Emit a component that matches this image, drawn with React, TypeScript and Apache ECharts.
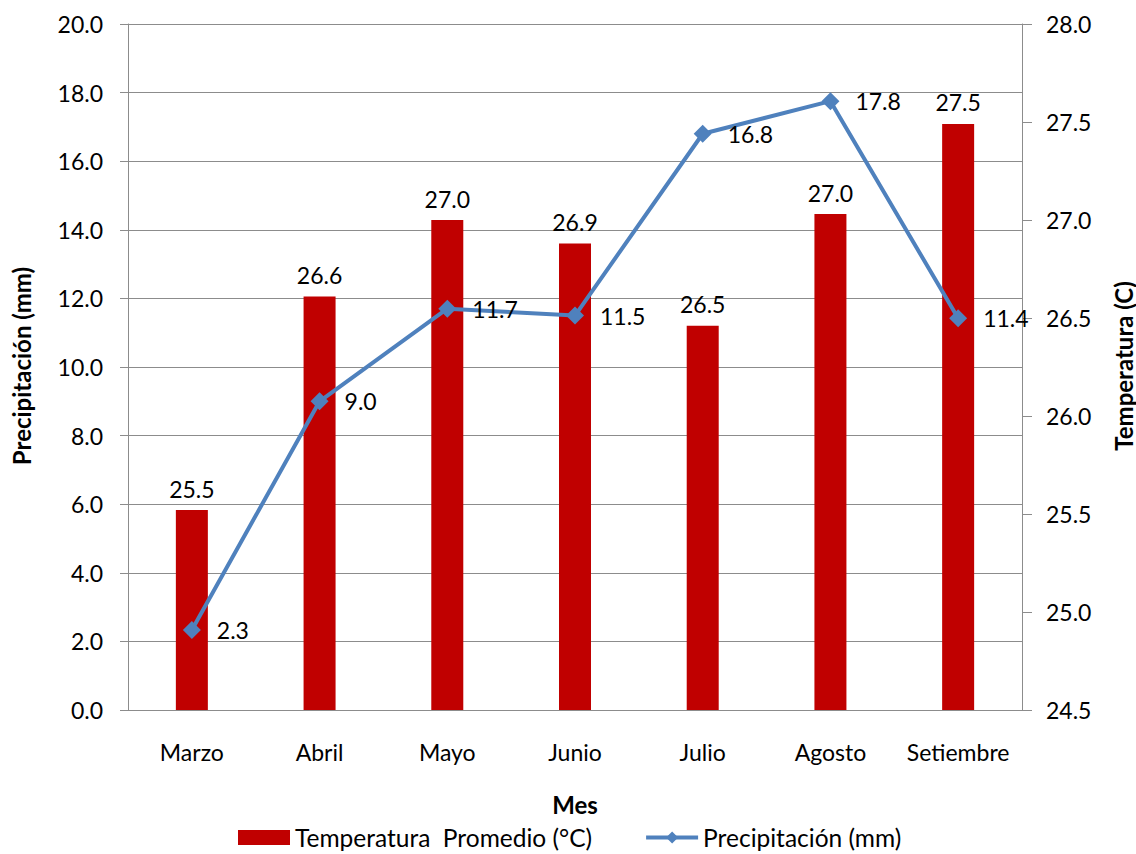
import React, { useEffect, useRef } from "react";
import * as echarts from "echarts";

const months = ["Marzo", "Abril", "Mayo", "Junio", "Julio", "Agosto", "Setiembre"];
const temperatura = [25.52, 26.61, 27.0, 26.88, 26.46, 27.03, 27.49];
const precipitacion = [2.33, 9.0, 11.7, 11.5, 16.8, 17.75, 11.42];
const leftTicks = { min: 0, max: 20, interval: 2 };
const rightTicks = { min: 24.5, max: 28, interval: 0.5 };

const FONT = "Lato";
const GRID = "#8c8c8c";
const FS = 23;

export default function App() {
  const ref = useRef<HTMLDivElement>(null);
  useEffect(() => {
    if (!ref.current) return;
    const chart = echarts.init(ref.current, null, { renderer: "svg" });
    chart.setOption({
      animation: false,
      backgroundColor: "#ffffff",
      textStyle: { fontFamily: FONT },
      grid: { left: 128, right: 114, top: 24, bottom: 144, containLabel: false },
      legend: {
        left: 238,
        top: 825,
        padding: 0,
        itemGap: 52,
        itemWidth: 52,
        itemHeight: 15,
        textStyle: { fontFamily: FONT, fontSize: 24.5, color: "#000" },
        data: [
          { name: "Temperatura  Promedio (°C)", icon: "rect" },
          {
            name: "Precipitación (mm)",
            lineStyle: { width: 4, color: "#4F81BD" },
            itemStyle: { color: "#4F81BD" },
          },
        ],
      },
      xAxis: {
        type: "category",
        data: months,
        axisLine: { lineStyle: { color: GRID, width: 1 } },
        axisTick: { show: false },
        axisLabel: { fontFamily: FONT, fontSize: FS, color: "#000", margin: 30, interval: 0 },
      },
      yAxis: [
        {
          type: "value",
          min: leftTicks.min,
          max: leftTicks.max,
          interval: leftTicks.interval,
          axisLine: { show: true, lineStyle: { color: GRID } },
          axisTick: { show: true, length: 8, lineStyle: { color: GRID } },
          splitLine: { lineStyle: { color: GRID, width: 1 } },
          axisLabel: {
            fontFamily: FONT,
            fontSize: FS,
            color: "#000",
            margin: 25,
            formatter: (v: number) => v.toFixed(1),
          },
        },
        {
          type: "value",
          min: rightTicks.min,
          max: rightTicks.max,
          interval: rightTicks.interval,
          position: "right",
          axisLine: { show: true, lineStyle: { color: GRID } },
          axisTick: { show: true, length: 10, lineStyle: { color: GRID } },
          splitLine: { show: false },
          axisLabel: {
            fontFamily: FONT,
            fontSize: FS,
            color: "#000",
            margin: 24,
            formatter: (v: number) => v.toFixed(1),
          },
        },
      ],
      series: [
        {
          name: "Temperatura  Promedio (°C)",
          type: "bar",
          yAxisIndex: 1,
          data: temperatura,
          barWidth: 32,
          itemStyle: { color: "#C00000" },
          label: {
            show: true,
            position: "top",
            distance: 10,
            fontFamily: FONT,
            fontSize: FS,
            color: "#000",
            formatter: (p: any) => Number(p.value).toFixed(1),
          },
        },
        {
          name: "Precipitación (mm)",
          type: "line",
          yAxisIndex: 0,
          data: precipitacion,
          symbol: "diamond",
          symbolSize: 18,
          lineStyle: { color: "#4F81BD", width: 4 },
          itemStyle: { color: "#4F81BD" },
          label: {
            show: true,
            position: "right",
            distance: 16,
            fontFamily: FONT,
            fontSize: FS,
            color: "#000",
            formatter: (p: any) => Number(p.value).toFixed(1),
          },
          z: 5,
        },
      ],
      graphic: [
        {
          type: "text",
          x: 21,
          y: 366,
          rotation: Math.PI / 2,
          style: {
            text: "Precipitación (mm)",
            fontFamily: FONT,
            fontSize: 24,
            fontWeight: "bold",
            fill: "#000",
            align: "center",
            verticalAlign: "middle",
          },
        },
        {
          type: "text",
          x: 1123,
          y: 366,
          rotation: Math.PI / 2,
          style: {
            text: "Temperatura (C)",
            fontFamily: FONT,
            fontSize: 24,
            fontWeight: "bold",
            fill: "#000",
            align: "center",
            verticalAlign: "middle",
          },
        },
        {
          type: "text",
          x: 575,
          y: 804,
          style: {
            text: "Mes",
            fontFamily: FONT,
            fontSize: 24,
            fontWeight: "bold",
            fill: "#000",
            align: "center",
            verticalAlign: "middle",
          },
        },
      ],
    });
    return () => chart.dispose();
  }, []);
  return (
    <div
      ref={ref}
      style={{ position: "absolute", left: 0, top: 0, width: 1136, height: 854 }}
    />
  );
}
